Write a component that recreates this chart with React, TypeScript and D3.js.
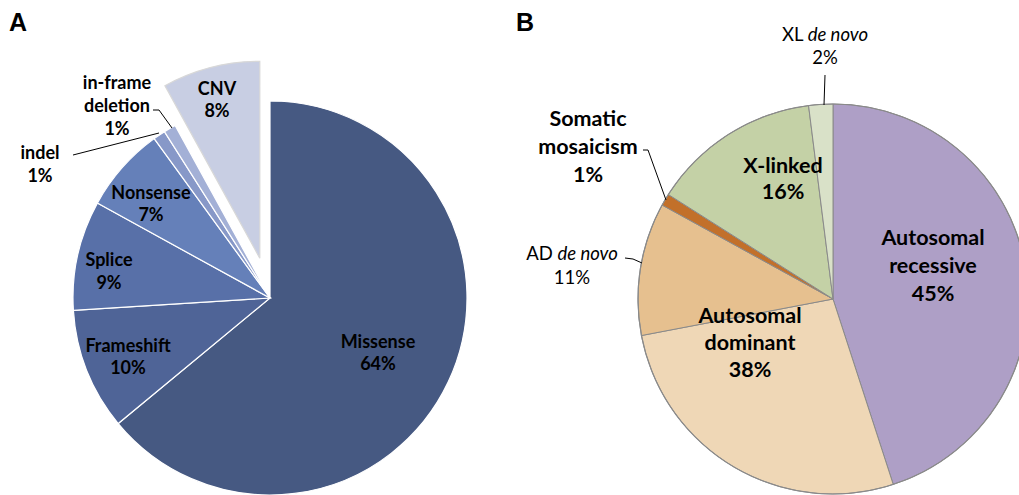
import React from "react";
import * as d3 from "d3";

// Panel A: variant types
const typeNames = ["Missense", "Frameshift", "Splice", "Nonsense", "indel", "in-frame deletion", "CNV"];
const typeValues = [64, 10, 9, 7, 1, 1, 8];
const typeColors = ["#465982", "#4f6497", "#5870a8", "#6580b9", "#8798c8", "#a3b0d6", "#c8cee3"];

// Panel B: inheritance
const inhNames = ["Autosomal recessive", "Autosomal dominant", "AD de novo", "Somatic mosaicism", "X-linked", "XL de novo"];
const inhValues = [45, 27, 11, 1, 14, 2];
const inhColors = ["#ae9fc6", "#efd7b6", "#e6c08f", "#c2702a", "#c4d1a6", "#d9e1c8"];

const W = 1019;
const H = 495;
const FONT = "Lato, 'Open Sans', sans-serif";

type Lbl = { lines: React.ReactNode[]; dx: number; dy: number; size: number; bold: boolean; lh: number };

const pieA = { cx: 270, cy: 298, r: 197 };
const pieB = { cx: 833, cy: 299, r: 195 };

// label anchors relative to pie centre (first line centre)
const labelsA: Lbl[] = [
  { lines: ["Missense", "64%"], dx: 108, dy: 43, size: 18, bold: true, lh: 22 },
  { lines: ["Frameshift", "10%"], dx: -142, dy: 47, size: 18, bold: true, lh: 22 },
  { lines: ["Splice", "9%"], dx: -161, dy: -39, size: 18, bold: true, lh: 23 },
  { lines: ["Nonsense", "7%"], dx: -119, dy: -106, size: 18, bold: true, lh: 22 },
  { lines: ["indel", "1%"], dx: -230, dy: -146, size: 18, bold: true, lh: 23 },
  { lines: ["in-frame", "deletion", "1%"], dx: -153, dy: -216, size: 18, bold: true, lh: 23 },
  { lines: ["CNV", "8%"], dx: -53, dy: -210, size: 18, bold: true, lh: 22 },
];

const it = (s: string) => <tspan fontStyle="italic">{s}</tspan>;

const labelsB: Lbl[] = [
  { lines: ["Autosomal", "recessive", "45%"], dx: 100, dy: -62, size: 21.5, bold: true, lh: 28 },
  { lines: ["Autosomal", "dominant", "38%"], dx: -83, dy: 16, size: 21.5, bold: true, lh: 27 },
  { lines: [<>AD {it("de novo")}</>, "11%"], dx: -261, dy: -46, size: 18.5, bold: false, lh: 24 },
  { lines: ["Somatic", "mosaicism", "1%"], dx: -245, dy: -181, size: 21.5, bold: true, lh: 28 },
  { lines: ["X-linked", "16%"], dx: -50, dy: -134, size: 21.5, bold: true, lh: 26 },
  { lines: [<>XL {it("de novo")}</>, "2%"], dx: -8, dy: -265, size: 18.5, bold: false, lh: 23 },
];

// leader lines: [slice index, points relative to centre]
const leadersA: [number, [number, number][]][] = [
  [4, [[-197, -143], [-111, -165]]],
  [5, [[-117, -188], [-111, -188], [-98, -170]]],
];
const leadersB: [number, [number, number][]][] = [
  [2, [[-208, -41], [-200, -40], [-191, -36]]],
  [3, [[-190, -149], [-185, -149], [-167, -99]]],
  [5, [[-8, -224], [-9, -194]]],
];

const pieGen = d3.pie<number>().sort(null).value((d) => d);

function Labels({ items, cx, cy }: { items: Lbl[]; cx: number; cy: number }) {
  return (
    <g>
      {items.map((l, i) => (
        <text
          key={i}
          textAnchor="middle"
          fontFamily={FONT}
          fontSize={l.size}
          fontWeight={l.bold ? 700 : 400}
          fill="#000"
        >
          {l.lines.map((ln, j) => (
            <tspan key={j} x={cx + l.dx} y={cy + l.dy + j * l.lh} dominantBaseline="central">
              {ln}
            </tspan>
          ))}
        </text>
      ))}
    </g>
  );
}

export default function App() {
  const arcsA = pieGen(typeValues);
  const arcA = d3.arc<d3.PieArcDatum<number>>().innerRadius(0).outerRadius(pieA.r);
  const explodeIdx = typeNames.indexOf("CNV");
  const explode = 41;

  const arcsB = pieGen(inhValues);
  const arcB = d3.arc<d3.PieArcDatum<number>>().innerRadius(0).outerRadius(pieB.r);

  const line = d3.line();

  return (
    <svg
      width={W}
      height={H}
      style={{ position: "absolute", left: 0, top: 0, background: "#fff" }}
    >
      <text x={9} y={31} fontFamily="Arial, 'Liberation Sans', sans-serif" fontWeight={700} fontSize={25}>
        A
      </text>
      <text x={516} y={31} fontFamily="Arial, 'Liberation Sans', sans-serif" fontWeight={700} fontSize={25}>
        B
      </text>

      <g transform={`translate(${pieA.cx},${pieA.cy})`}>
        {arcsA.map((a, i) => {
          let tx = 0;
          let ty = 0;
          if (i === explodeIdx) {
            const mid = (a.startAngle + a.endAngle) / 2;
            tx = Math.sin(mid) * explode;
            ty = -Math.cos(mid) * explode;
          }
          return (
            <path
              key={typeNames[i]}
              d={arcA(a) || ""}
              transform={`translate(${tx},${ty})`}
              fill={typeColors[i]}
              stroke={i === explodeIdx ? "#d8d8d8" : "#fff"}
              strokeWidth={1.2}
            />
          );
        })}
        {leadersA.map(([i, pts]) => (
          <path key={i} d={line(pts) || ""} fill="none" stroke="#000" strokeWidth={1} />
        ))}
      </g>
      <Labels items={labelsA} cx={pieA.cx} cy={pieA.cy} />

      <g transform={`translate(${pieB.cx},${pieB.cy})`}>
        {arcsB.map((a, i) => (
          <path key={inhNames[i]} d={arcB(a) || ""} fill={inhColors[i]} stroke="#8a8a8a" strokeWidth={1} />
        ))}
        <circle r={pieB.r} fill="none" stroke="#8a8a8a" strokeWidth={1.2} />
        {leadersB.map(([i, pts]) => (
          <path key={i} d={line(pts) || ""} fill="none" stroke="#000" strokeWidth={1} />
        ))}
      </g>
      <Labels items={labelsB} cx={pieB.cx} cy={pieB.cy} />
    </svg>
  );
}
